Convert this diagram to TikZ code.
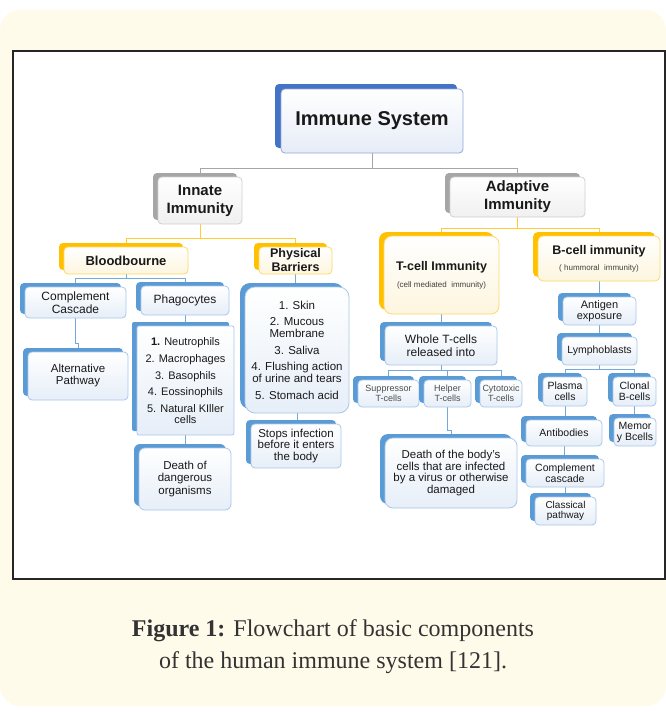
\documentclass[tikz,border=0pt]{standalone}
\usepackage{fontspec}
\setmainfont{Liberation Sans}
\newfontfamily\capfont{Liberation Serif}
\usetikzlibrary{shadows,calc}
\pgfdeclarelayer{bg}
\pgfdeclarelayer{lines}
\pgfsetlayers{bg,lines,main}

\definecolor{cream}{HTML}{FFFBEA}
\definecolor{bluesh}{HTML}{5B9BD5}
\definecolor{blueln}{HTML}{A9C8EA}
\definecolor{bluefill}{HTML}{E6EEF8}
\definecolor{yelsh}{HTML}{FFC000}
\definecolor{yelln}{HTML}{FFD966}
\definecolor{yelfill}{HTML}{FDF5DE}
\definecolor{graysh}{HTML}{A6A6A6}
\definecolor{grayln}{HTML}{D0D0D0}
\definecolor{grayfill}{HTML}{F0F0F0}
\definecolor{navysh}{HTML}{4472C4}
\definecolor{navyln}{HTML}{8FAADC}
\definecolor{navyfill}{HTML}{E6ECF7}
\definecolor{capcol}{HTML}{333333}

\newcommand{\fsz}[2]{\fontsize{#1}{#2}\selectfont}

\begin{document}
\begin{tikzpicture}[x=1pt,y=-1pt,
  boxbase/.style={rectangle, rounded corners=4pt, inner sep=1pt, align=center,
    text=black!90, line width=0.8pt},
  bluebox/.style={boxbase, draw=blueln, top color=white, bottom color=bluefill,
    general shadow={fill=bluesh, shadow xshift=-5pt, shadow yshift=4pt}},
  yelbox/.style={boxbase, draw=yelln, top color=white, bottom color=yelfill,
    general shadow={fill=yelsh, shadow xshift=-5pt, shadow yshift=4pt}},
  graybox/.style={boxbase, draw=grayln, top color=white, bottom color=grayfill,
    general shadow={fill=graysh, shadow xshift=-5pt, shadow yshift=4pt}},
  navybox/.style={boxbase, draw=navyln, top color=white, bottom color=navyfill,
    general shadow={fill=navysh, shadow xshift=-6pt, shadow yshift=5pt}},
  sz/.style n args={2}{minimum width=#1pt, minimum height=#2pt},
  grayline/.style={draw=graysh, line width=0.9pt},
  yelline/.style={draw=yelsh!80, line width=0.9pt},
  blueline/.style={draw=bluesh!85, line width=0.9pt},
]
\useasboundingbox (0,0) rectangle (666,712);
\begin{pgfonlayer}{bg}
  \fill[cream, rounded corners=20pt] (0,10) rectangle (666,706);
  \draw[line width=2.2pt, draw=black!85, fill=white] (13,51) rectangle (665,579);
\end{pgfonlayer}

% top level
\node[navybox, sz={182}{64}, font=\bfseries\fsz{20}{22}] (imm) at (372,121) {Immune System};
\node[graybox, sz={84}{47}, font=\bfseries\fsz{15}{18}] (inn) at (200,200.5) {Innate\\Immunity};
\node[graybox, sz={135}{40}, font=\bfseries\fsz{15}{18}] (adp) at (517.5,197) {Adaptive\\Immunity};

% innate
\node[yelbox, sz={124}{27}, font=\bfseries\fsz{13}{14}] (blood) at (126,260.5) {Bloodbourne};
\node[yelbox, sz={73}{27}, font=\bfseries\fsz{12.5}{14}] (phys) at (295.5,260.5) {Physical\\Barriers};
\node[bluebox, sz={101}{31}, font=\fsz{12}{13}] (cc) at (75.5,302.5) {Complement\\Cascade};
\node[bluebox, sz={88}{29}, font=\fsz{12}{13}] (phag) at (185,300.5) {Phagocytes};
\node[bluebox, sz={104}{126}, rounded corners=10pt, font=\fsz{11.5}{12}] (physlist) at (297,350)
  {1. Skin\\[4.5pt]2. Mucous\\Membrane\\[4.5pt]3. Saliva\\[4.5pt]4. Flushing action\\of urine and tears\\[4.5pt]5. Stomach acid};
\node[bluebox, sz={100}{48}, font=\fsz{11.5}{12}] (alt) at (78,376) {Alternative\\Pathway};
\node[bluebox, sz={97}{109}, rounded corners=2pt, font=\fsz{11}{11}] (phlist) at (185.5,380.5)
  {\textbf{1.} Neutrophils\\[6.5pt]2. Macrophages\\[6pt]3. Basophils\\[5pt]4. Eossinophils\\[6pt]5. Natural KIller\\cells};
\node[bluebox, sz={92}{62}, rounded corners=6pt, font=\fsz{11.5}{12.5}] (death) at (185,479) {Death of\\dangerous\\organisms};
\node[bluebox, sz={90}{44}, font=\fsz{11.5}{11.5}] (stops) at (296,446) {Stops infection\\before it enters\\the body};

% adaptive
\node[yelbox, sz={115}{78}, rounded corners=8pt, font=\bfseries\fsz{12.5}{14}] (tcell) at (441.5,275)
  {T-cell Immunity\\[3pt]{\mdseries\fsz{8}{9}\color{black!75}(cell mediated\ \ immunity)}};
\node[yelbox, sz={122}{45}, rounded corners=5pt, font=\bfseries\fsz{12.5}{14}] (bcell) at (599,258.5)
  {B-cell immunity\\[2pt]{\mdseries\fsz{8}{9}\color{black!75}( hummoral\ \ immunity)}};
\node[bluebox, sz={112}{39}, font=\fsz{12}{12.5}] (whole) at (441,345.5) {Whole T-cells\\released into};
\node[bluebox, sz={61}{27}, font=\fsz{9}{9.5}, text=black!70] (supp) at (388.5,393.5) {Suppressor\\T-cells};
\node[bluebox, sz={47}{27}, font=\fsz{9}{9.5}, text=black!70] (help) at (447.5,393.5) {Helper\\T-cells};
\node[bluebox, sz={42}{27}, font=\fsz{9}{9.5}, text=black!70] (cyto) at (501,393.5) {Cytotoxic\\T-cells};
\node[bluebox, sz={132}{70}, rounded corners=8pt, font=\fsz{11.5}{11.5}] (deathb) at (451,473)
  {Death of the body's\\cells that are infected\\by a virus or otherwise\\damaged};
\node[bluebox, sz={73}{28}, font=\fsz{11}{11.5}] (antigen) at (599.5,311) {Antigen\\exposure};
\node[bluebox, sz={75}{28}, font=\fsz{10.5}{11}] (lympho) at (599.5,351) {Lymphoblasts};
\node[bluebox, sz={44}{29}, font=\fsz{10.5}{11}] (plasma) at (565,391.5) {Plasma\\cells};
\node[bluebox, sz={43}{29}, font=\fsz{10.5}{11}] (clonal) at (634.5,391.5) {Clonal\\B-cells};
\node[bluebox, sz={76}{26}, font=\fsz{10.5}{11}] (antib) at (564,433) {Antibodies};
\node[bluebox, sz={42}{28}, font=\fsz{10.5}{11}] (memory) at (635,432) {Memor\\y Bcells};
\node[bluebox, sz={78}{28}, font=\fsz{10.5}{11}] (compc) at (565,473) {Complement\\cascade};
\node[bluebox, sz={61}{28}, font=\fsz{10}{10.5}] (classical) at (565.5,511) {Classical\\pathway};

% caption
\node[font=\capfont\fsz{24}{28}, text=capcol, inner sep=0pt] (cap1) at (333,631)
  {\textbf{Figure 1:} Flowchart of basic components};
\node[font=\capfont\fsz{24}{28}, text=capcol, inner sep=0pt] (cap2) at (333,663)
  {of the human immune system [121].};

% connectors
\begin{pgfonlayer}{lines}
  \draw[grayline] (imm.south) -- ++(0,15) -| (inn.north);
  \draw[grayline] (imm.south) -- ++(0,15) -| (adp.north);
  \draw[yelline] (inn.south) -- ++(0,14) -| (blood.north);
  \draw[yelline] (inn.south) -- ++(0,14) -| (phys.north);
  \draw[yelline] (adp.south) -- ++(0,11) -| (tcell.north);
  \draw[yelline] (adp.south) -- ++(0,11) -| (bcell.north);
  \draw[blueline] (blood.south) -- ++(0,4) -| (cc.north);
  \draw[blueline] (blood.south) -- ++(0,4) -| (phag.north);
  \draw[blueline] (phys.south) -- (phys.south |- physlist.north);
  \draw[blueline] (cc.south) -- ++(0,25) -| (alt.north);
  \draw[blueline] (phag.south) -- (phag.south |- phlist.north);
  \draw[blueline] (phlist.south) -- (phlist.south |- death.north);
  \draw[blueline] (physlist.south) -- (physlist.south |- stops.north);
  \draw[blueline] (tcell.south) -- (tcell.south |- whole.north);
  \draw[blueline] (whole.south) -- ++(0,5) -| (supp.north);
  \draw[blueline] (whole.south) -- ++(0,5) -| (help.north);
  \draw[blueline] (whole.south) -- ++(0,5) -| (cyto.north);
  \draw[blueline] (help.south) -- ++(0,23) -| (deathb.north);
  \draw[blueline] (bcell.south) -- (bcell.south |- antigen.north);
  \draw[blueline] (antigen.south) -- (antigen.south |- lympho.north);
  \draw[blueline] (lympho.south) -- ++(0,4) -| (plasma.north);
  \draw[blueline] (lympho.south) -- ++(0,4) -| (clonal.north);
  \draw[blueline] (plasma.south) -- (plasma.south |- antib.north);
  \draw[blueline] (antib.south) -- (antib.south |- compc.north);
  \draw[blueline] (compc.south) -- (compc.south |- classical.north);
  \draw[blueline] (clonal.south) -- (clonal.south |- memory.north);
\end{pgfonlayer}
\end{tikzpicture}
\end{document}
